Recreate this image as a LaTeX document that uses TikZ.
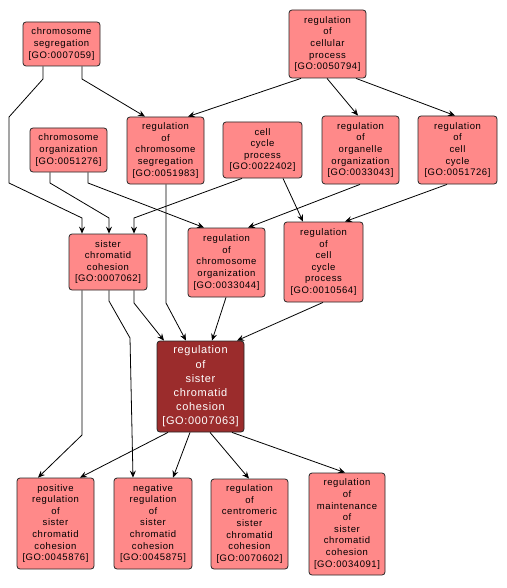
\documentclass[tikz,border=0pt]{standalone}
\usepackage{fontspec}
\setmainfont{Liberation Sans}[LetterSpace=6]
\usetikzlibrary{arrows.meta}
\definecolor{nodefill}{RGB}{255,137,137}
\definecolor{darkfill}{RGB}{155,44,44}
\newcommand\goid[1]{{[GO:#1]}}
\tikzset{
  box/.style={draw=black!85, line width=0.8pt, rounded corners=3pt, fill=nodefill, align=center, inner sep=0pt,
    font=\fontsize{9.5}{11.6}\selectfont},
  mainbox/.style={box, fill=darkfill, text=white, font=\fontsize{11}{14.2}\selectfont},
  arr/.style={line width=0.8pt, -{Stealth[length=7pt,width=6pt,inset=2.5pt]}}
}
\begin{document}
\begin{tikzpicture}[x=1pt,y=-1pt]
\useasboundingbox (0,0) rectangle (506,588);
\node[box, minimum width=77pt, minimum height=44pt] (chrseg) at (61.5,44) {chromosome\\segregation\\\goid{0007059}};
\node[box, minimum width=77pt, minimum height=68pt] (regcell) at (327.5,44) {regulation\\of\\cellular\\process\\\goid{0050794}};
\node[box, minimum width=77pt, minimum height=44pt] (chrorg) at (68.5,150) {chromosome\\organization\\\goid{0051276}};
\node[box, minimum width=77pt, minimum height=67pt] (regchrseg) at (165.5,150.5) {regulation\\of\\chromosome\\segregation\\\goid{0051983}};
\node[box, minimum width=79pt, minimum height=56pt] (ccp) at (262.5,150) {cell\\cycle\\process\\\goid{0022402}};
\node[box, minimum width=77pt, minimum height=68pt] (regorg) at (360.5,150) {regulation\\of\\organelle\\organization\\\goid{0033043}};
\node[box, minimum width=79pt, minimum height=68pt] (regcc) at (457.5,150) {regulation\\of\\cell\\cycle\\\goid{0051726}};
\node[box, minimum width=78pt, minimum height=56pt] (scc) at (108,262) {sister\\chromatid\\cohesion\\\goid{0007062}};
\node[box, minimum width=77pt, minimum height=69pt] (regchrorg) at (226.5,262.5) {regulation\\of\\chromosome\\organization\\\goid{0033044}};
\node[box, minimum width=79pt, minimum height=80pt] (regccp) at (323.5,262) {regulation\\of\\cell\\cycle\\process\\\goid{0010564}};
\node[mainbox, minimum width=87pt, minimum height=91pt] (regscc) at (200.5,386.5) {regulation\\of\\sister\\chromatid\\cohesion\\\goid{0007063}};
\node[box, minimum width=77pt, minimum height=91pt] (pos) at (55.5,523.5) {positive\\regulation\\of\\sister\\chromatid\\cohesion\\\goid{0045876}};
\node[box, minimum width=78pt, minimum height=91pt] (neg) at (153,523.5) {negative\\regulation\\of\\sister\\chromatid\\cohesion\\\goid{0045875}};
\node[box, minimum width=77pt, minimum height=90pt] (cent) at (249.5,524) {regulation\\of\\centromeric\\sister\\chromatid\\cohesion\\\goid{0070602}};
\node[box, minimum width=76pt, minimum height=102pt] (maint) at (347,524) {regulation\\of\\maintenance\\of\\sister\\chromatid\\cohesion\\\goid{0034091}};
% edges
\draw[arr] (82,0 |- chrseg.south) -- (82,79) -- (145,0 |- regchrseg.north);
\draw[arr] (43,0 |- chrseg.south) -- (43,79) -- (9,117) -- (9,183) -- (82,218) -- (82,0 |- scc.north);
\draw[arr] (50,0 |- chrorg.south) -- (50,183) -- (109,218) -- (109,0 |- scc.north);
\draw[arr] (88,0 |- chrorg.south) -- (88,183) -- (204,0 |- regchrorg.north);
\draw[arr] (242,0 |- ccp.south) -- (134,218) -- (134,0 |- scc.north);
\draw[arr] (283,0 |- ccp.south) -- (303,0 |- regccp.north);
\draw[arr] (360,0 |- regorg.south) -- (248,0 |- regchrorg.north);
\draw[arr] (447,0 |- regcc.south) -- (345,0 |- regccp.north);
\draw[arr] (301,0 |- regcell.south) -- (188,0 |- regchrseg.north);
\draw[arr] (327,0 |- regcell.south) -- (358,0 |- regorg.north);
\draw[arr] (356,0 |- regcell.south) -- (455,0 |- regcc.north);
\draw[arr] (166,0 |- regchrseg.south) -- (166,303) -- (186,0 |- regscc.north);
\draw[arr] (134,0 |- scc.south) -- (134,303) -- (164,0 |- regscc.north);
\draw[arr] (109,0 |- scc.south) -- (109,301) -- (130,338) -- (133,0 |- neg.north);
\draw[arr] (82,0 |- scc.south) -- (82,435) -- (38,0 |- pos.north);
\draw[arr] (226,0 |- regchrorg.south) -- (212,0 |- regscc.north);
\draw[arr] (323,0 |- regccp.south) -- (237,0 |- regscc.north);
\draw[arr] (168,0 |- regscc.south) -- (80,0 |- pos.north);
\draw[arr] (190,0 |- regscc.south) -- (173,0 |- neg.north);
\draw[arr] (210,0 |- regscc.south) -- (249,0 |- cent.north);
\draw[arr] (232,0 |- regscc.south) -- (345,0 |- maint.north);
\end{tikzpicture}
\end{document}
